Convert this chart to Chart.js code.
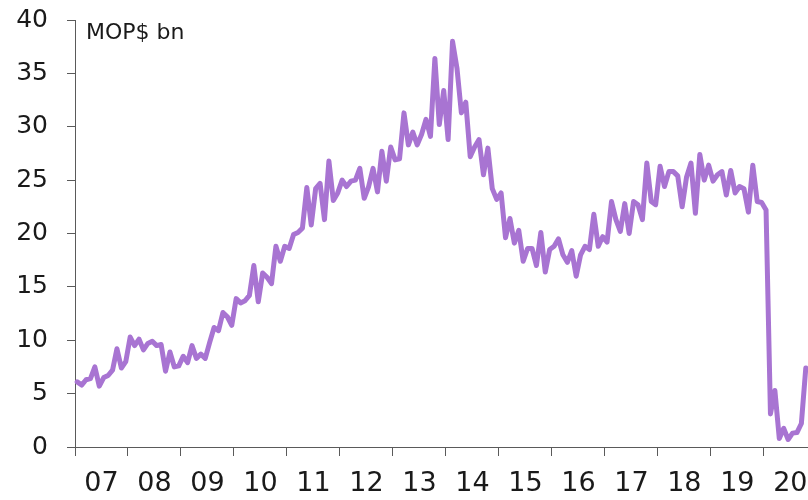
<!DOCTYPE html>
<html>
<head>
<meta charset="utf-8">
<script src="https://cdn.jsdelivr.net/npm/chart.js@4"></script>
<style>
  html, body { margin: 0; padding: 0; background: #fff; }
  #wrap { width: 808px; height: 500px; }
</style>
</head>
<body>
<div id="wrap"><canvas id="myChart" width="808" height="500"></canvas></div>
<script>
// monthly gaming revenue, Jan 2007 - Oct 2020, MOP$ bn
const years = ['07', '08', '09', '10', '11', '12', '13', '14', '15', '16', '17', '18', '19', '20'];
const rev2007 = [6.1, 5.8, 6.3, 6.4, 7.5, 5.7, 6.5, 6.7, 7.2, 9.2, 7.4, 8.0];
const rev2008 = [10.3, 9.5, 10.1, 9.1, 9.7, 9.9, 9.5, 9.6, 7.1, 8.9, 7.5, 7.6];
const rev2009 = [8.5, 7.9, 9.5, 8.3, 8.7, 8.3, 9.8, 11.2, 10.9, 12.6, 12.2, 11.4];
const rev2010 = [13.9, 13.5, 13.7, 14.2, 17.0, 13.6, 16.3, 15.9, 15.3, 18.8, 17.4, 18.8];
const rev2011 = [18.6, 19.9, 20.1, 20.5, 24.3, 20.8, 24.2, 24.7, 21.3, 26.8, 23.1, 23.8];
const rev2012 = [25.0, 24.4, 24.9, 25.0, 26.1, 23.3, 24.4, 26.1, 23.9, 27.7, 24.9, 28.1];
const rev2013 = [26.9, 27.0, 31.3, 28.3, 29.5, 28.3, 29.3, 30.7, 29.1, 36.4, 30.2, 33.4];
const rev2014 = [28.8, 38.0, 35.5, 31.3, 32.3, 27.2, 28.1, 28.8, 25.5, 28.0, 24.2, 23.2];
const rev2015 = [23.8, 19.6, 21.4, 19.1, 20.3, 17.4, 18.6, 18.6, 17.0, 20.1, 16.4, 18.5];
const rev2016 = [18.8, 19.5, 18.0, 17.3, 18.4, 16.0, 18.0, 18.8, 18.5, 21.8, 18.8, 19.7];
const rev2017 = [19.2, 23.0, 21.3, 20.2, 22.8, 20.0, 23.0, 22.7, 21.3, 26.6, 23.0, 22.7];
const rev2018 = [26.3, 24.4, 25.8, 25.8, 25.4, 22.5, 25.3, 26.6, 21.9, 27.4, 25.0, 26.4];
const rev2019 = [24.9, 25.5, 25.8, 23.6, 25.9, 23.8, 24.4, 24.2, 22.0, 26.4, 23.0, 22.9];
const rev2020 = [22.2, 3.1, 5.3, 0.8, 1.75, 0.7, 1.3, 1.35, 2.2, 7.4];

const revenue = [].concat(rev2007, rev2008, rev2009, rev2010, rev2011, rev2012, rev2013,
  rev2014, rev2015, rev2016, rev2017, rev2018, rev2019, rev2020);

let labels = [];
for (let i = 0; i < revenue.length; i++) {
  labels.push(i);
}

const axisColor = '#5a5a5a';
const textColor = '#1a1a1a';

// unit text in the top left corner of the plot
const unitLabel = {
  id: 'unitLabel',
  afterDraw(chart) {
    const ctx = chart.ctx;
    ctx.save();
    ctx.font = '22px "DejaVu Sans"';
    ctx.fillStyle = textColor;
    ctx.textAlign = 'left';
    ctx.textBaseline = 'alphabetic';
    ctx.fillText('MOP$ bn', chart.chartArea.left + 11, 39);
    ctx.restore();
  }
};

new Chart(document.getElementById('myChart'), {
  type: 'line',
  data: {
    labels: labels,
    datasets: [{
      data: revenue,
      borderColor: '#a874d2',
      borderWidth: 5,
      pointRadius: 0,
      tension: 0,
      borderJoinStyle: 'round',
      borderCapStyle: 'round'
    }]
  },
  options: {
    responsive: false,
    animation: false,
    layout: { padding: { top: 20, right: 0, left: 0, bottom: 0 } },
    plugins: {
      legend: { display: false },
      tooltip: { enabled: false }
    },
    scales: {
      x: {
        type: 'category',
        offset: true,
        afterFit: (scale) => {
          scale.height = 53;
          scale.paddingLeft = 0;
          scale.paddingRight = 0;
        },
        grid: {
          offset: true,
          drawOnChartArea: false,
          drawTicks: true,
          tickLength: 9,
          tickWidth: 1,
          tickColor: (ctx) => (ctx.index % 12 === 0 ? axisColor : 'rgba(0,0,0,0)')
        },
        border: { display: true, color: axisColor, width: 1 },
        ticks: {
          autoSkip: false,
          maxRotation: 0,
          minRotation: 0,
          padding: 12,
          labelOffset: -2.2,
          color: textColor,
          font: { family: 'DejaVu Sans', size: 27 },
          callback: (value, index) => (index % 12 === 6 ? years[Math.floor(index / 12)] : '')
        }
      },
      y: {
        min: 0,
        max: 40,
        afterFit: (scale) => {
          scale.width = 75;
          scale.paddingTop = 0;
          scale.paddingBottom = 0;
        },
        grid: {
          drawOnChartArea: false,
          drawTicks: true,
          tickLength: 8,
          tickColor: axisColor
        },
        border: { display: true, color: axisColor, width: 1 },
        ticks: {
          stepSize: 5,
          padding: 19,
          color: textColor,
          font: { family: 'DejaVu Sans', size: 25 }
        }
      }
    }
  },
  plugins: [unitLabel]
});
</script>
</body>
</html>
